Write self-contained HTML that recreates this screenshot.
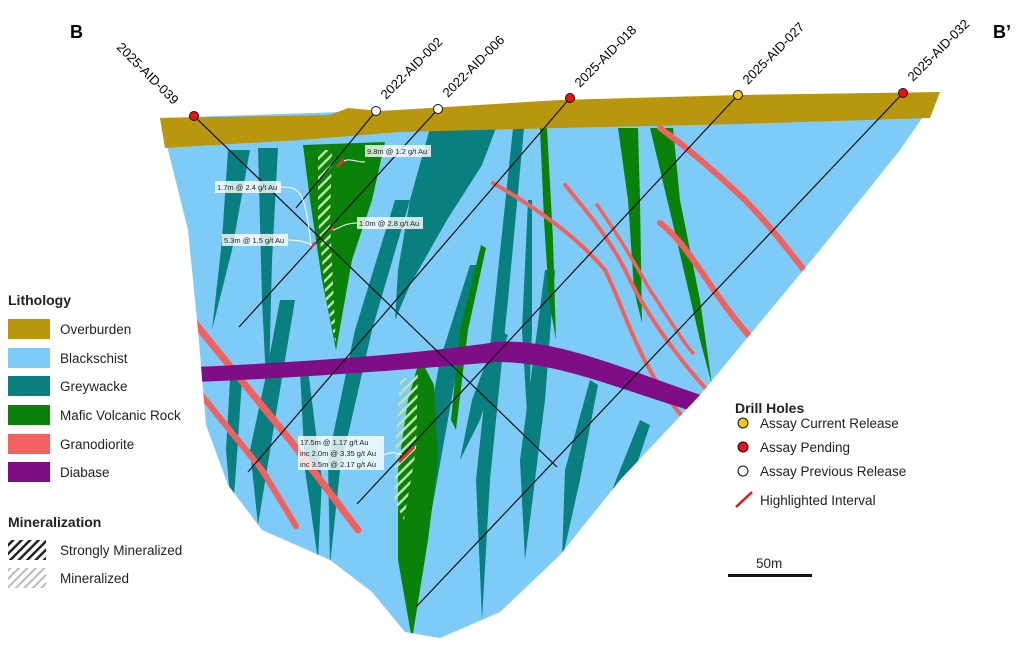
<!DOCTYPE html>
<html><head><meta charset="utf-8"><style>
body{margin:0;background:#fff;}
svg{display:block;font-family:"Liberation Sans",sans-serif;}
</style></head><body>
<svg width="1024" height="657" viewBox="0 0 1024 657" xmlns="http://www.w3.org/2000/svg">
<defs>
<pattern id="h" width="7" height="7" patternUnits="userSpaceOnUse" patternTransform="rotate(45)">
<rect width="2.5" height="7" fill="#bfe8a0"/></pattern>
<pattern id="hs" width="6" height="6" patternUnits="userSpaceOnUse" patternTransform="rotate(45)">
<rect width="2.5" height="6" fill="#222"/></pattern>
<pattern id="hm" width="6" height="6" patternUnits="userSpaceOnUse" patternTransform="rotate(45)">
<rect width="2" height="6" fill="#bbb"/></pattern>
<clipPath id="c"><path d="M160,118 L940,92 L900,150 L820,250 L700,395 L620,480 L560,555 L500,612 L440,638 L405,632 L372,592 L330,560 L262,530 L228,485 L206,425 L198,330 L188,230 Z"/></clipPath>
</defs>
<text x="70" y="38" font-size="18" font-weight="bold">B</text>
<text x="993" y="38" font-size="18" font-weight="bold">B’</text>
<g clip-path="url(#c)">
<rect x="150" y="80" width="800" height="570" fill="#7fcbf8"/>
<g fill="#0a7f80">
<path d="M228,150 L250,150 L232,250 L212,330 L222,240 Z"/>
<path d="M258,148 L278,148 L272,260 L268,420 L262,300 Z"/>
<path d="M340,170 L352,170 L340,230 L332,250 Z"/>
<path d="M430,128 L496,128 L482,165 L447,220 L410,285 L395,320 L398,270 L410,200 Z"/>
<path d="M395,200 L410,200 L372,330 L340,470 L330,565 L328,460 L355,330 Z"/>
<path d="M470,265 L480,265 L455,380 L430,520 L410,600 L418,480 L440,360 Z"/>
<path d="M513,128 L524,128 L508,300 L490,480 L482,620 L476,480 L495,300 Z"/>
<path d="M528,200 L532,200 L532,330 L528,430 L522,330 Z"/>
<path d="M545,270 L555,270 L545,400 L525,560 L520,460 Z"/>
<path d="M498,330 L508,335 L480,420 L460,460 L472,400 Z"/>
<path d="M280,300 L295,300 L275,420 L258,525 L250,450 L265,380 Z"/>
<path d="M300,370 L308,370 L322,480 L318,560 L305,470 Z"/>
<path d="M590,380 L598,385 L580,480 L562,560 L565,470 Z"/>
<path d="M640,420 L650,425 L625,500 L600,560 L612,490 Z"/>
<path d="M230,380 L242,380 L236,470 L232,520 L226,450 Z"/>
</g>
<g fill="#0a820a">
<path d="M303,145 L385,142 L372,200 L352,260 L336,350 L322,280 L310,200 Z"/>
<path d="M420,358 L434,385 L438,460 L428,540 L412,640 L398,560 L398,470 L408,400 Z"/>
<path d="M540,128 L547,128 L553,240 L556,340 L549,300 L544,220 Z"/>
<path d="M618,128 L638,128 L640,200 L642,323 L634,290 L628,200 Z"/>
<path d="M650,128 L673,128 L680,200 L700,300 L712,385 L700,340 L672,220 Z"/>
<path d="M481,245 L486,248 L468,330 L456,430 L451,420 L460,330 Z"/>
</g>
<path d="M318,150 L332,150 L330,220 L336,345 L326,300 L318,220 Z" fill="url(#h)"/>
<path d="M400,380 L418,375 L416,450 L404,520 L394,500 L396,440 Z" fill="url(#h)"/>
<g fill="none" stroke="#f2615e" stroke-linecap="round">
<path d="M194,322 L290,440 L358,530" stroke-width="7"/>
<path d="M199,392 L262,470 L296,526" stroke-width="6"/>
<path d="M493,183 C540,210 580,240 605,270 C625,310 640,370 683,417" stroke-width="4"/>
<path d="M565,185 C590,215 613,243 630,280 C650,320 680,360 707,390" stroke-width="4"/>
<path d="M597,205 C615,230 633,260 650,290 C670,320 685,345 693,353" stroke-width="3.5"/>
<path d="M660,223 C690,245 713,297 753,340" stroke-width="6"/>
<path d="M660,128 C690,150 713,170 745,200 C777,233 795,260 810,277" stroke-width="6"/>
</g>
<path d="M195,367 C300,362 400,356 497,342 C560,338 630,372 710,398 L702,414 C620,390 560,362 497,362 C400,370 300,378 195,382 Z" fill="#7f0d85"/>
</g>
<path d="M160,118 L330,115 L348,108 L380,111 L560,100 L740,95 L940,92 L930,118 L740,124 L560,128 L400,132 L300,140 L165,148 Z" fill="#b8960e"/>
<g stroke="#111" stroke-width="1.2">
<line x1="194" y1="116" x2="557" y2="467"/>
<line x1="376" y1="111" x2="296" y2="208"/>
<line x1="438" y1="109" x2="239" y2="327"/>
<line x1="570" y1="98" x2="248" y2="472"/>
<line x1="738" y1="95" x2="357" y2="504"/>
<line x1="903" y1="93" x2="416" y2="607"/>
</g>
<g stroke="#d33" stroke-width="3">
<line x1="344" y1="159" x2="337" y2="167"/>
<line x1="315" y1="243" x2="311" y2="247"/>
<line x1="334" y1="228" x2="331" y2="231"/>
<line x1="414" y1="447" x2="399" y2="462"/>
</g>
<g stroke="#111" stroke-width="1">
<circle cx="194" cy="116" r="4.5" fill="#e11"/>
<circle cx="376" cy="111" r="4.5" fill="#fff"/>
<circle cx="438" cy="109" r="4.5" fill="#fff"/>
<circle cx="570" cy="98" r="4.5" fill="#e11"/>
<circle cx="738" cy="95" r="4.5" fill="#f5c518"/>
<circle cx="903" cy="93" r="4.5" fill="#e11"/>
</g>
<g font-size="13">
<text transform="translate(116,48) rotate(45)">2025-AID-039</text>
<text transform="translate(386,100) rotate(-45)">2022-AID-002</text>
<text transform="translate(448,98) rotate(-45)">2022-AID-006</text>
<text transform="translate(580,88) rotate(-45)">2025-AID-018</text>
<text transform="translate(748,85) rotate(-45)">2025-AID-027</text>
<text transform="translate(913,82) rotate(-45)">2025-AID-032</text>
</g>
<g fill="#fff" fill-opacity="0.8"><rect x="365" y="145" width="66" height="12"/><rect x="215" y="181" width="66" height="12"/><rect x="357" y="217" width="66" height="12"/><rect x="222" y="234" width="66" height="12"/><rect x="298" y="436" width="86" height="34"/></g>
<g font-size="7.5" fill="#222">
<text x="367" y="154">9.8m @ 1.2 g/t Au</text>
<text x="217" y="190">1.7m @ 2.4 g/t Au</text>
<text x="359" y="226">1.0m @ 2.8 g/t Au</text>
<text x="224" y="243">5.3m @ 1.5 g/t Au</text>
<text x="300" y="445">17.5m @ 1.17 g/t Au</text>
<text x="300" y="456">inc 2.0m @ 3.35 g/t Au</text>
<text x="300" y="467">inc 3.5m @ 2.17 g/t Au</text>
</g>
<g stroke="#fff" fill="none" stroke-width="1"><path d="M365,162 C355,162 350,158 344,161"/><path d="M281,187 C300,187 305,190 311,246"/><path d="M357,223 C345,223 340,228 333,230"/><path d="M288,240 C300,240 305,242 312,245"/><path d="M384,455 C390,452 395,452 402,455"/></g>
<g font-size="13.5" fill="#222">
<text x="8" y="305" font-weight="bold" font-size="14">Lithology</text>
<rect x="8" y="319" width="42" height="20" fill="#b8960e"/><text x="60" y="334">Overburden</text>
<rect x="8" y="348" width="42" height="20" fill="#7fcbf8"/><text x="60" y="363">Blackschist</text>
<rect x="8" y="376" width="42" height="20" fill="#0a7f80"/><text x="60" y="391">Greywacke</text>
<rect x="8" y="405" width="42" height="20" fill="#0a820a"/><text x="60" y="420">Mafic Volcanic Rock</text>
<rect x="8" y="434" width="42" height="20" fill="#f2615e"/><text x="60" y="449">Granodiorite</text>
<rect x="8" y="462" width="42" height="20" fill="#7f0d85"/><text x="60" y="477">Diabase</text>
<text x="8" y="527" font-weight="bold" font-size="14">Mineralization</text>
<rect x="8" y="540" width="38" height="20" fill="url(#hs)"/><text x="60" y="555">Strongly Mineralized</text>
<rect x="8" y="568" width="38" height="20" fill="url(#hm)"/><text x="60" y="583">Mineralized</text>
<text x="735" y="413" font-weight="bold" font-size="14">Drill Holes</text>
<circle cx="743" cy="423" r="5" fill="#f5c518" stroke="#111"/><text x="760" y="428">Assay Current Release</text>
<circle cx="743" cy="447" r="5" fill="#e11" stroke="#111"/><text x="760" y="452">Assay Pending</text>
<circle cx="743" cy="471" r="5" fill="#fff" stroke="#111"/><text x="760" y="476">Assay Previous Release</text>
<line x1="736" y1="507" x2="752" y2="492" stroke="#e11" stroke-width="2.5"/><text x="760" y="505">Highlighted Interval</text>
<text x="756" y="568">50m</text>
<rect x="728" y="574" width="84" height="3" fill="#111"/>
</g>
</svg>
</body></html>
